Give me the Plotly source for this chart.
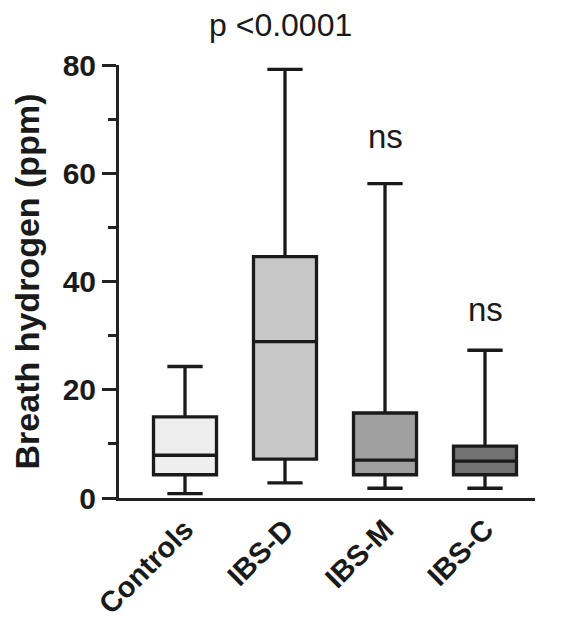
import plotly.graph_objects as go

categories = ["Controls", "IBS-D", "IBS-M", "IBS-C"]
mins = [0.8, 2.8, 1.8, 1.8]
q1s = [4.3, 7.2, 4.3, 4.3]
medians = [7.9, 28.9, 7.0, 6.8]
q3s = [15.0, 44.6, 15.7, 9.6]
maxs = [24.3, 79.2, 58.1, 27.3]
fills = ["#eeeeee", "#c8c8c8", "#a0a0a0", "#727272"]
ns_labels = [("ns", 2, 66.7), ("ns", 3, 34.8)]
p_label = "p <0.0001"

FONT = "Arial, Liberation Sans, sans-serif"
fig = go.Figure()
for i, c in enumerate(categories):
    fig.add_trace(go.Box(
        x=[i], q1=[q1s[i]], median=[medians[i]], q3=[q3s[i]],
        lowerfence=[mins[i]], upperfence=[maxs[i]],
        width=0.63, whiskerwidth=0.56,
        fillcolor=fills[i], line=dict(color="#1a1a1a", width=3.3),
        name=c, showlegend=False, hoverinfo="skip",
    ))

for txt, xv, yv in ns_labels:
    fig.add_annotation(x=xv, y=yv, text=txt, showarrow=False, yanchor="middle",
                       font=dict(family=FONT, size=33, color="#1a1a1a"))
fig.add_annotation(x=0.95, y=1.092, yref="paper", yanchor="middle", text=p_label,
                   showarrow=False, font=dict(family=FONT, size=32, color="#1a1a1a"))

fig.update_layout(
    width=575, height=626,
    margin=dict(l=111, r=48, t=57, b=136),
    paper_bgcolor="white", plot_bgcolor="white",
    font=dict(family=FONT, color="#1a1a1a"),
    xaxis=dict(
        range=[-0.66, 3.5], tickvals=list(range(len(categories))), ticktext=categories,
        tickangle=-45, showgrid=False, zeroline=False, showline=True,
        linecolor="#222222", linewidth=3, ticks="",
        tickfont=dict(family=FONT, size=29, color="#1a1a1a", weight="bold"),
    ),
    yaxis=dict(
        range=[0, 80], tickvals=[0, 20, 40, 60, 80], showgrid=False, zeroline=False,
        showline=True, linecolor="#222222", linewidth=3,
        ticks="outside", ticklen=14, tickwidth=3, tickcolor="#222222",
        minor=dict(tickvals=[10, 30, 50, 70], ticks="outside", ticklen=8, tickwidth=3, tickcolor="#222222"),
        tickfont=dict(family=FONT, size=30, color="#1a1a1a", weight="bold"),
        title=dict(text="Breath hydrogen (ppm)", standoff=14,
                   font=dict(family=FONT, size=34, color="#1a1a1a", weight="bold")),
    ),
)
fig.write_html("out.html")
